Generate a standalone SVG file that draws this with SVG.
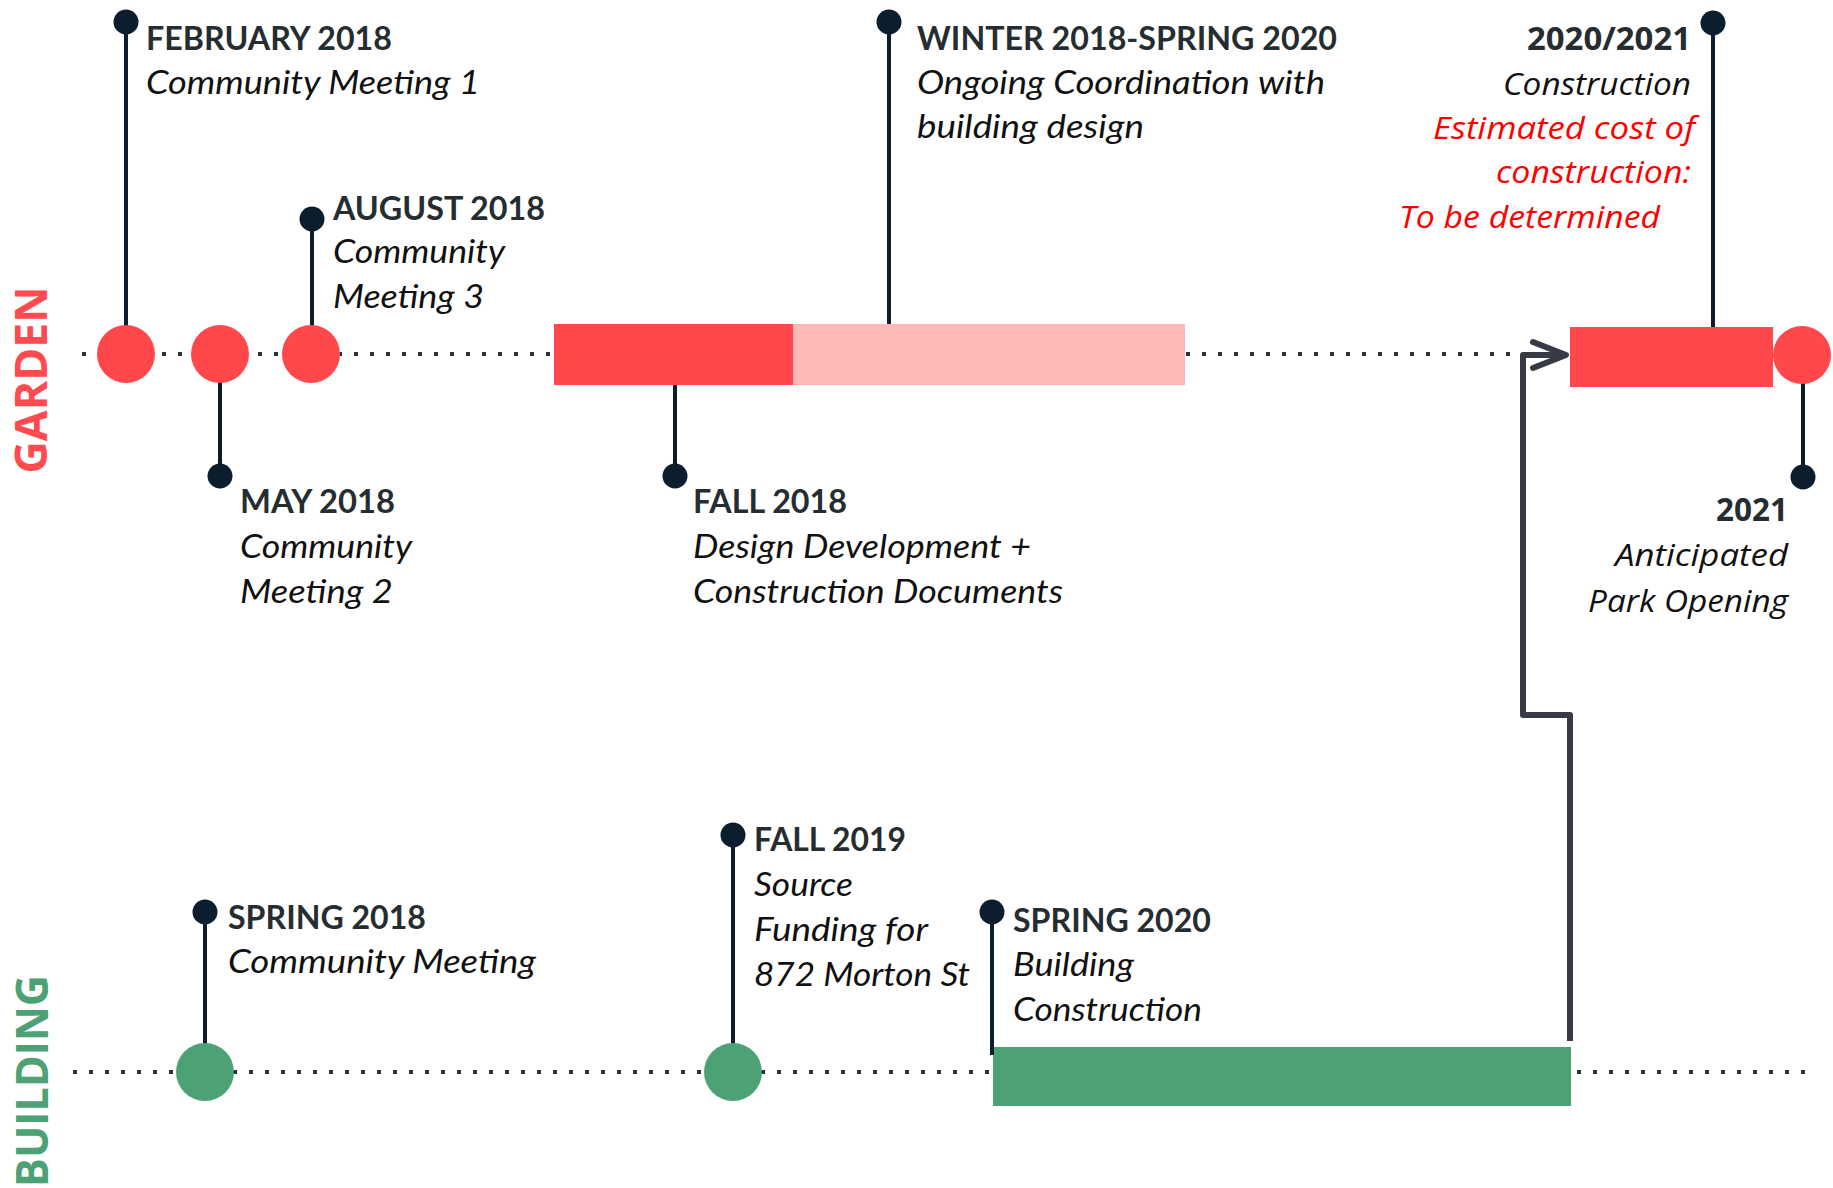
<svg xmlns="http://www.w3.org/2000/svg" width="1833" height="1188" viewBox="0 0 1833 1188">
<defs>
<style>
.bg{fill:#ffffff}
.axis{stroke:#263238;stroke-width:4;stroke-dasharray:4 12;fill:none}
.pin{stroke:#0c1e2e;stroke-width:4;fill:none}
.dot{fill:#0c1e2e}
.red{fill:#ff474c}
.pink{fill:#ffb8b8}
.green{fill:#4ca275}
.t{font-family:Lato,"Liberation Sans",sans-serif;font-size:32px;font-weight:700;fill:#252d31}
.d{font-family:Lato,"Liberation Sans",sans-serif;font-size:32px;font-style:italic;fill:#111111}
.t2{font-family:"Open Sans","Liberation Sans",sans-serif;font-size:32px;font-weight:700;fill:#252d31}
.d2{font-family:"Open Sans","Liberation Sans",sans-serif;font-size:31px;font-style:italic;fill:#111111}
.r2{font-family:"Open Sans","Liberation Sans",sans-serif;font-size:31px;font-style:italic;fill:#ff0000}
.lane{font-family:"Open Sans","Liberation Sans",sans-serif;font-size:45px;font-weight:700}
.conn{stroke:#383a46;stroke-width:6;fill:none;stroke-linejoin:round}
</style>
<marker id="chev" markerUnits="userSpaceOnUse" markerWidth="44" markerHeight="34" viewBox="0 0 44 34" refX="38" refY="17" orient="auto">
<path d="M5,4 L38,17 L5,30" fill="none" stroke="#383a46" stroke-width="6" stroke-linecap="round" stroke-linejoin="round"/>
</marker>
</defs>
<rect class="bg" x="0" y="0" width="1833" height="1188"/>

<g id="axes">
<line class="axis" x1="82" y1="354" x2="1520" y2="354"/>
<line class="axis" x1="73" y1="1072" x2="1808" y2="1072"/>
</g>

<g id="lane-labels">
<text class="lane" fill="#ff4b4f" text-anchor="middle" transform="translate(47,380) rotate(-90)" textLength="187" lengthAdjust="spacingAndGlyphs">GARDEN</text>
<text class="lane" fill="#4ca275" text-anchor="middle" transform="translate(48,1081) rotate(-90)" textLength="212" lengthAdjust="spacingAndGlyphs">BUILDING</text>
</g>

<g id="connectors">
<path class="conn" d="M1570,1041 V715 H1523 V355 H1566" marker-end="url(#chev)"/>
</g>

<g id="garden-bars">
<rect class="red" x="554" y="324" width="239" height="61"/>
<rect class="pink" x="793" y="324" width="392" height="61"/>
<rect class="red" x="1570" y="327" width="203" height="60"/>
</g>

<g id="node-feb2018">
<line class="pin" x1="126" y1="22" x2="126" y2="330"/>
<circle class="dot" cx="126" cy="22" r="12.5"/>
<circle class="red" cx="126" cy="354" r="29"/>
<text class="t" x="146" y="50" textLength="246" lengthAdjust="spacingAndGlyphs">FEBRUARY 2018</text>
<text class="d" x="146" y="94" textLength="334" lengthAdjust="spacingAndGlyphs">Community Meeting 1</text>
</g>

<g id="node-may2018">
<line class="pin" x1="220" y1="378" x2="220" y2="476"/>
<circle class="dot" cx="220" cy="476" r="12.5"/>
<circle class="red" cx="220" cy="354" r="29"/>
<text class="t" x="240" y="513" textLength="155" lengthAdjust="spacingAndGlyphs">MAY 2018</text>
<text class="d" x="240" y="558" textLength="172" lengthAdjust="spacingAndGlyphs">Community</text>
<text class="d" x="240" y="603" textLength="153" lengthAdjust="spacingAndGlyphs">Meeting 2</text>
</g>

<g id="node-aug2018">
<line class="pin" x1="312" y1="219" x2="312" y2="330"/>
<circle class="dot" cx="312" cy="219" r="12.5"/>
<circle class="red" cx="311" cy="354" r="29"/>
<text class="t" x="333" y="220" textLength="212" lengthAdjust="spacingAndGlyphs">AUGUST 2018</text>
<text class="d" x="333" y="263" textLength="172" lengthAdjust="spacingAndGlyphs">Community</text>
<text class="d" x="333" y="308" textLength="151" lengthAdjust="spacingAndGlyphs">Meeting 3</text>
</g>

<g id="node-fall2018">
<line class="pin" x1="675" y1="385" x2="675" y2="476"/>
<circle class="dot" cx="675" cy="476" r="12.5"/>
<text class="t" x="693" y="513" textLength="154" lengthAdjust="spacingAndGlyphs">FALL 2018</text>
<text class="d" x="693" y="558" textLength="338" lengthAdjust="spacingAndGlyphs">Design Development +</text>
<text class="d" x="693" y="603" textLength="370" lengthAdjust="spacingAndGlyphs">Construction Documents</text>
</g>

<g id="node-winter2018">
<line class="pin" x1="889" y1="22" x2="889" y2="324"/>
<circle class="dot" cx="889" cy="22" r="12.5"/>
<text class="t" x="917" y="50" textLength="420" lengthAdjust="spacingAndGlyphs">WINTER 2018-SPRING 2020</text>
<text class="d" x="917" y="94" textLength="408" lengthAdjust="spacingAndGlyphs">Ongoing Coordination with</text>
<text class="d" x="917" y="138" textLength="227" lengthAdjust="spacingAndGlyphs">building design</text>
</g>

<g id="node-2020-2021">
<line class="pin" x1="1713" y1="23" x2="1713" y2="327"/>
<circle class="dot" cx="1713" cy="23" r="12.5"/>
<text class="t2" x="1691" y="50" text-anchor="end" textLength="164" lengthAdjust="spacingAndGlyphs">2020/2021</text>
<text class="d2" x="1691" y="95" text-anchor="end" textLength="188" lengthAdjust="spacingAndGlyphs">Construction</text>
<text class="r2" x="1695" y="139" text-anchor="end" textLength="262" lengthAdjust="spacingAndGlyphs">Estimated cost of</text>
<text class="r2" x="1691" y="183" text-anchor="end" textLength="195" lengthAdjust="spacingAndGlyphs">construction:</text>
<text class="r2" x="1660" y="228" text-anchor="end" textLength="261" lengthAdjust="spacingAndGlyphs">To be determined</text>
</g>

<g id="node-2021">
<line class="pin" x1="1803" y1="380" x2="1803" y2="477"/>
<circle class="dot" cx="1803" cy="477" r="12.5"/>
<circle class="red" cx="1802" cy="355" r="29"/>
<text class="t2" x="1788" y="521" text-anchor="end" textLength="72" lengthAdjust="spacingAndGlyphs">2021</text>
<text class="d2" x="1788" y="566" text-anchor="end" textLength="173" lengthAdjust="spacingAndGlyphs">Anticipated</text>
<text class="d2" x="1788" y="612" text-anchor="end" textLength="200" lengthAdjust="spacingAndGlyphs">Park Opening</text>
</g>

<g id="node-spring2018">
<line class="pin" x1="205" y1="912" x2="205" y2="1048"/>
<circle class="dot" cx="205" cy="912" r="12.5"/>
<circle class="green" cx="205" cy="1072" r="29"/>
<text class="t" x="228" y="929" textLength="198" lengthAdjust="spacingAndGlyphs">SPRING 2018</text>
<text class="d" x="228" y="973" textLength="308" lengthAdjust="spacingAndGlyphs">Community Meeting</text>
</g>

<g id="node-fall2019">
<line class="pin" x1="733" y1="835" x2="733" y2="1048"/>
<circle class="dot" cx="733" cy="835" r="12.5"/>
<circle class="green" cx="733" cy="1072" r="29"/>
<text class="t" x="754" y="851" textLength="152" lengthAdjust="spacingAndGlyphs">FALL 2019</text>
<text class="d" x="754" y="896" textLength="99" lengthAdjust="spacingAndGlyphs">Source</text>
<text class="d" x="754" y="941" textLength="174" lengthAdjust="spacingAndGlyphs">Funding for</text>
<text class="d" x="754" y="986" textLength="216" lengthAdjust="spacingAndGlyphs">872 Morton St</text>
</g>

<g id="node-spring2020">
<rect class="green" x="993" y="1047" width="578" height="59"/>
<line class="pin" x1="992" y1="912" x2="992" y2="1055"/>
<circle class="dot" cx="992" cy="912" r="12.5"/>
<text class="t" x="1013" y="932" textLength="198" lengthAdjust="spacingAndGlyphs">SPRING 2020</text>
<text class="d" x="1013" y="976" textLength="121" lengthAdjust="spacingAndGlyphs">Building</text>
<text class="d" x="1013" y="1021" textLength="189" lengthAdjust="spacingAndGlyphs">Construction</text>
</g>
</svg>
